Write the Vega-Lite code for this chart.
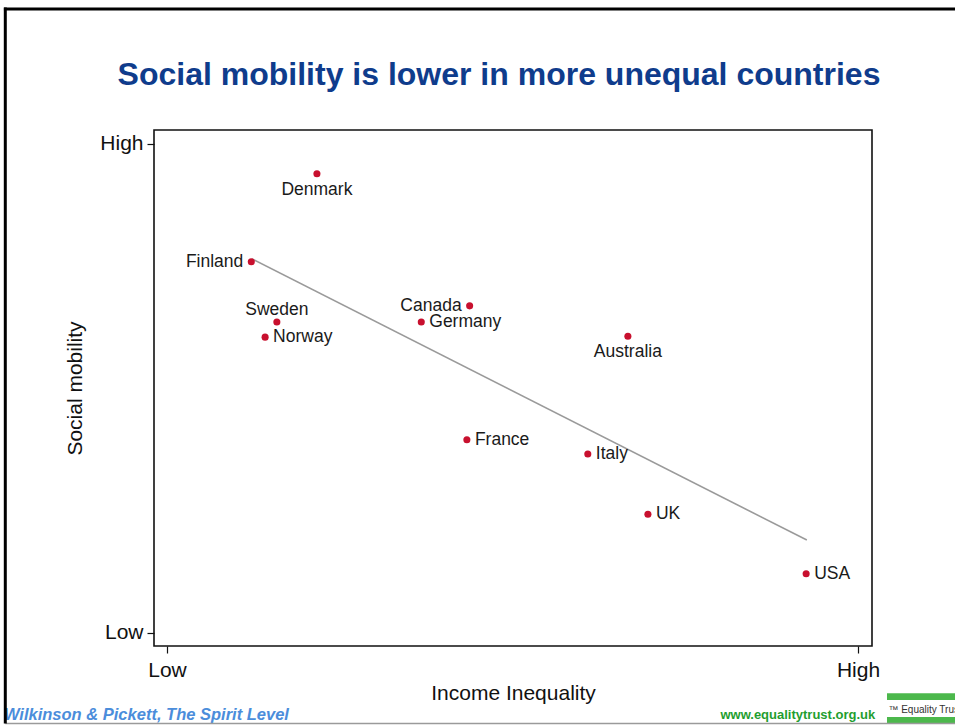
{
  "$schema": "https://vega.github.io/schema/vega-lite/v6.json",
  "autosize": {"type": "none"},
  "width": 718,
  "height": 516,
  "padding": {"left": 154, "top": 130, "right": 83, "bottom": 79},
  "background": "white",
  "config": {
    "font": "Liberation Sans",
    "view": {"stroke": "#111111", "strokeWidth": 1.6}
  },
  "title": {
    "text": "Social mobility is lower in more unequal countries",
    "font": "Liberation Sans",
    "fontSize": 32,
    "fontWeight": "bold",
    "color": "#0f3c8c",
    "anchor": "middle",
    "frame": "group",
    "dx": -14,
    "offset": -86
  },
  "datasets": {
    "countries": [
      {"country": "Denmark", "inequality": 21.7, "mobility": 93.9},
      {"country": "Finland", "inequality": 12.2, "mobility": 75.9},
      {"country": "Sweden", "inequality": 15.9, "mobility": 63.6},
      {"country": "Norway", "inequality": 14.2, "mobility": 60.5},
      {"country": "Canada", "inequality": 43.8, "mobility": 66.9},
      {"country": "Germany", "inequality": 36.8, "mobility": 63.6},
      {"country": "Australia", "inequality": 66.7, "mobility": 60.7},
      {"country": "France", "inequality": 43.4, "mobility": 39.5},
      {"country": "Italy", "inequality": 60.9, "mobility": 36.6},
      {"country": "UK", "inequality": 69.6, "mobility": 24.3},
      {"country": "USA", "inequality": 92.5, "mobility": 12.1}
    ],
    "trend": [
      {"inequality": 12.3, "mobility": 76.5},
      {"inequality": 92.6, "mobility": 19.0}
    ]
  },
  "layer": [
    {
      "data": {"name": "trend"},
      "mark": {"type": "line", "color": "#9a9a9a", "strokeWidth": 1.6},
      "encoding": {
        "x": {
          "field": "inequality",
          "type": "quantitative",
          "scale": {"domain": [-1.88, 102.03], "nice": false, "zero": false},
          "axis": {
            "values": [0, 100],
            "labelExpr": "datum.value == 0 ? 'Low' : 'High'",
            "labelFontSize": 21,
            "labelColor": "#111111",
            "labelPadding": 6,
            "tickColor": "#111111",
            "tickSize": 7,
            "tickWidth": 1.2,
            "domain": false,
            "grid": false,
            "title": "Income Inequality",
            "titleFontSize": 21,
            "titleFontWeight": "normal",
            "titleColor": "#111111",
            "titlePadding": 2
          }
        },
        "y": {
          "field": "mobility",
          "type": "quantitative",
          "scale": {"domain": [-2.66, 102.86], "nice": false, "zero": false},
          "axis": {
            "values": [0, 100],
            "labelExpr": "datum.value == 0 ? 'Low' : 'High'",
            "labelFontSize": 21,
            "labelColor": "#111111",
            "labelPadding": 4,
            "tickColor": "#111111",
            "tickSize": 7,
            "tickWidth": 1.2,
            "domain": false,
            "grid": false,
            "title": "Social mobility",
            "titleFontSize": 21,
            "titleFontWeight": "normal",
            "titleColor": "#111111",
            "titlePadding": 14
          }
        }
      }
    },
    {
      "data": {"name": "countries"},
      "mark": {"type": "circle", "color": "#c8102e", "opacity": 1, "size": 50},
      "encoding": {
        "x": {"field": "inequality", "type": "quantitative"},
        "y": {"field": "mobility", "type": "quantitative"}
      }
    },
    {
      "data": {"name": "countries"},
      "transform": [{"filter": {"field": "country", "oneOf": ["Norway", "Germany", "France", "Italy", "UK", "USA"]}}],
      "mark": {"type": "text", "align": "left", "baseline": "middle", "dx": 8, "fontSize": 17.5, "color": "#1a1a1a"},
      "encoding": {
        "x": {"field": "inequality", "type": "quantitative"},
        "y": {"field": "mobility", "type": "quantitative"},
        "text": {"field": "country"}
      }
    },
    {
      "data": {"name": "countries"},
      "transform": [{"filter": {"field": "country", "oneOf": ["Finland", "Canada"]}}],
      "mark": {"type": "text", "align": "right", "baseline": "middle", "dx": -8, "fontSize": 17.5, "color": "#1a1a1a"},
      "encoding": {
        "x": {"field": "inequality", "type": "quantitative"},
        "y": {"field": "mobility", "type": "quantitative"},
        "text": {"field": "country"}
      }
    },
    {
      "data": {"name": "countries"},
      "transform": [{"filter": {"field": "country", "oneOf": ["Denmark", "Australia"]}}],
      "mark": {"type": "text", "align": "center", "baseline": "top", "dy": 7, "fontSize": 17.5, "color": "#1a1a1a"},
      "encoding": {
        "x": {"field": "inequality", "type": "quantitative"},
        "y": {"field": "mobility", "type": "quantitative"},
        "text": {"field": "country"}
      }
    },
    {
      "data": {"name": "countries"},
      "transform": [{"filter": {"field": "country", "oneOf": ["Sweden"]}}],
      "mark": {"type": "text", "align": "center", "baseline": "alphabetic", "dy": -7, "fontSize": 17.5, "color": "#1a1a1a"},
      "encoding": {
        "x": {"field": "inequality", "type": "quantitative"},
        "y": {"field": "mobility", "type": "quantitative"},
        "text": {"field": "country"}
      }
    },
    {
      "data": {"values": [{"text": "Wilkinson & Pickett, The Spirit Level"}]},
      "mark": {"type": "text", "align": "left", "baseline": "alphabetic", "fontSize": 16.5, "fontWeight": "bold", "fontStyle": "italic", "color": "#4b8ddb", "clip": false},
      "encoding": {
        "x": {"datum": -23.6},
        "y": {"datum": -17.8},
        "text": {"field": "text"}
      }
    },
    {
      "data": {"values": [{"text": "www.equalitytrust.org.uk"}]},
      "mark": {"type": "text", "align": "right", "baseline": "alphabetic", "fontSize": 13, "fontWeight": "bold", "color": "#1f9e2f", "clip": false},
      "encoding": {
        "x": {"datum": 102.5},
        "y": {"datum": -17.6},
        "text": {"field": "text"}
      }
    },
    {
      "data": {"values": [{"part": "upper"}]},
      "mark": {"type": "rect", "color": "#4cb84c", "clip": false},
      "encoding": {
        "x": {"datum": 104.2},
        "x2": {"datum": 116},
        "y": {"datum": -12.3},
        "y2": {"datum": -13.7}
      }
    },
    {
      "data": {"values": [{"part": "lower"}]},
      "mark": {"type": "rect", "color": "#4cb84c", "clip": false},
      "encoding": {
        "x": {"datum": 104.2},
        "x2": {"datum": 116},
        "y": {"datum": -17.2},
        "y2": {"datum": -18.4}
      }
    },
    {
      "data": {"values": [{"text": "™ Equality Trust"}]},
      "mark": {"type": "text", "align": "left", "baseline": "alphabetic", "fontSize": 10, "color": "#333333", "clip": false},
      "encoding": {
        "x": {"datum": 104.4},
        "y": {"datum": -16.3},
        "text": {"field": "text"}
      }
    },
    {
      "data": {"values": [{"edge": "bottom"}]},
      "mark": {"type": "rule", "color": "#9a9a9a", "strokeWidth": 1.5, "clip": false},
      "encoding": {
        "x": {"datum": -23.4},
        "x2": {"datum": 116},
        "y": {"datum": -18.5}
      }
    },
    {
      "data": {"values": [{"edge": "top"}]},
      "mark": {"type": "rule", "color": "#000000", "strokeWidth": 3, "clip": false},
      "encoding": {
        "x": {"datum": -23.6},
        "x2": {"datum": 116},
        "y": {"datum": 127.6}
      }
    },
    {
      "data": {"values": [{"edge": "left"}]},
      "mark": {"type": "rule", "color": "#000000", "strokeWidth": 3, "clip": false},
      "encoding": {
        "x": {"datum": -23.4},
        "y": {"datum": 127.9},
        "y2": {"datum": -18.5}
      }
    }
  ]
}
